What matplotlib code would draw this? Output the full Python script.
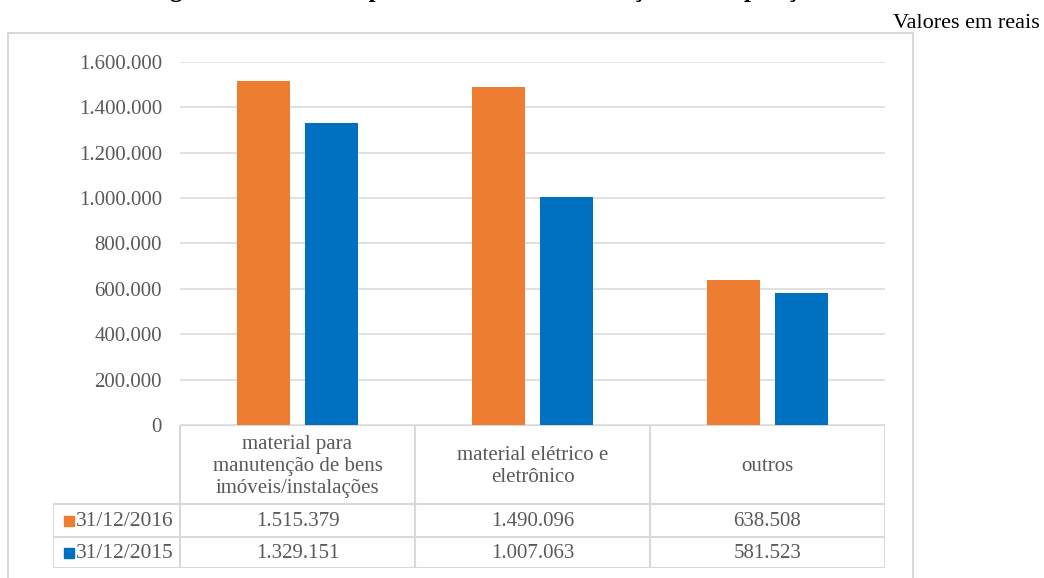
import matplotlib.pyplot as plt
from matplotlib.patches import Rectangle

# data
categories = [
    "material para\nmanutenção de bens\nimóveis/instalações",
    "material elétrico e\neletrônico",
    "outros",
]
series_names = ["31/12/2016", "31/12/2015"]
values_2016 = [1515379, 1490096, 638508]
values_2015 = [1329151, 1007063, 581523]
yticks = [0, 200000, 400000, 600000, 800000, 1000000, 1200000, 1400000, 1600000]

ORANGE = "#ED7D31"
BLUE = "#0070C0"
GRID = "#D9D9D9"
TXT = "#595959"
FONT = "Liberation Serif"

W, H = 1044, 578
plt.rcParams["font.family"] = [FONT, "DejaVu Serif"]

fig = plt.figure(figsize=(W / 100, H / 100), dpi=100)

# outer chart frame (bottom runs off the image)
fig.add_artist(Rectangle((8 / W, -0.1), (913 - 8) / W, (H - 33) / H + 0.1,
                         transform=fig.transFigure, fill=False, ec=GRID, lw=1.5))

# title sits above the image edge, only its descenders show (as in the source)
fig.text(127 / W, 1 + 2.5 / H,
         "Imagem 11 – Material por subelemento – Evolução e Composição",
         ha="left", va="baseline", fontsize=18, fontweight="bold", color="black")
fig.text(1040 / W, 1 - 28 / H, "Valores em reais", ha="right", va="baseline",
         fontsize=16, color="black")

# bar area
ax = fig.add_axes([180 / W, (H - 425) / H, 705 / W, 363 / H])
x = list(range(len(categories)))
off, bw = 0.1436, 0.2255
ax.bar([i - off for i in x], values_2016, width=bw, color=ORANGE, zorder=2)
ax.bar([i + off for i in x], values_2015, width=bw, color=BLUE, zorder=2)
ax.set_xlim(-0.5, len(categories) - 0.5)
ax.set_ylim(0, 1600000)
ax.set_yticks(yticks)
ax.set_yticklabels([f"{v:,}".replace(",", ".") for v in yticks],
                   fontsize=15, color=TXT)
ax.set_xticks([])
ax.tick_params(axis="y", length=0, pad=13)
ax.yaxis.grid(True, color=GRID, lw=1.1, zorder=0)
ax.set_axisbelow(True)
for s in ax.spines.values():
    s.set_visible(False)

# data table under the bars
left = -0.5 - (180 - 53) / 235
tax = fig.add_axes([53 / W, (H - 568) / H, 832 / W, 143 / H])
tax.set_xlim(left, len(categories) - 0.5)
tax.set_ylim(143, 0)
tax.axis("off")
rows = [0, 79, 112, 143]
right = len(categories) - 0.5
lk = dict(color=GRID, lw=1.5, solid_capstyle="projecting")
tax.plot([-0.5, right], [0, 0], **lk)
for r in rows[1:]:
    tax.plot([left, right], [r, r], **lk)
for b in [i - 0.5 for i in range(len(categories) + 1)]:
    tax.plot([b, b], [0, 143], **lk)
tax.plot([left, left], [rows[1], 143], **lk)

for i, c in enumerate(categories):
    tax.text(i, rows[1] / 2 + 2, c, ha="center", va="center", fontsize=15,
             color=TXT, linespacing=1.22)

for r, (name, vals, col) in enumerate(zip(series_names, [values_2016, values_2015], [ORANGE, BLUE])):
    yc = (rows[r + 1] + rows[r + 2]) / 2
    tax.plot([left + 0.07], [yc], marker="s", ms=7.5, color=col, clip_on=False)
    tax.text(left + 0.097, yc + 1, name, ha="left", va="center", fontsize=15.5, color=TXT)
    for i, v in enumerate(vals):
        tax.text(i, yc + 1, f"{v:,}".replace(",", "."), ha="center", va="center",
                 fontsize=15, color=TXT)

fig.savefig("out.png", dpi=100)
